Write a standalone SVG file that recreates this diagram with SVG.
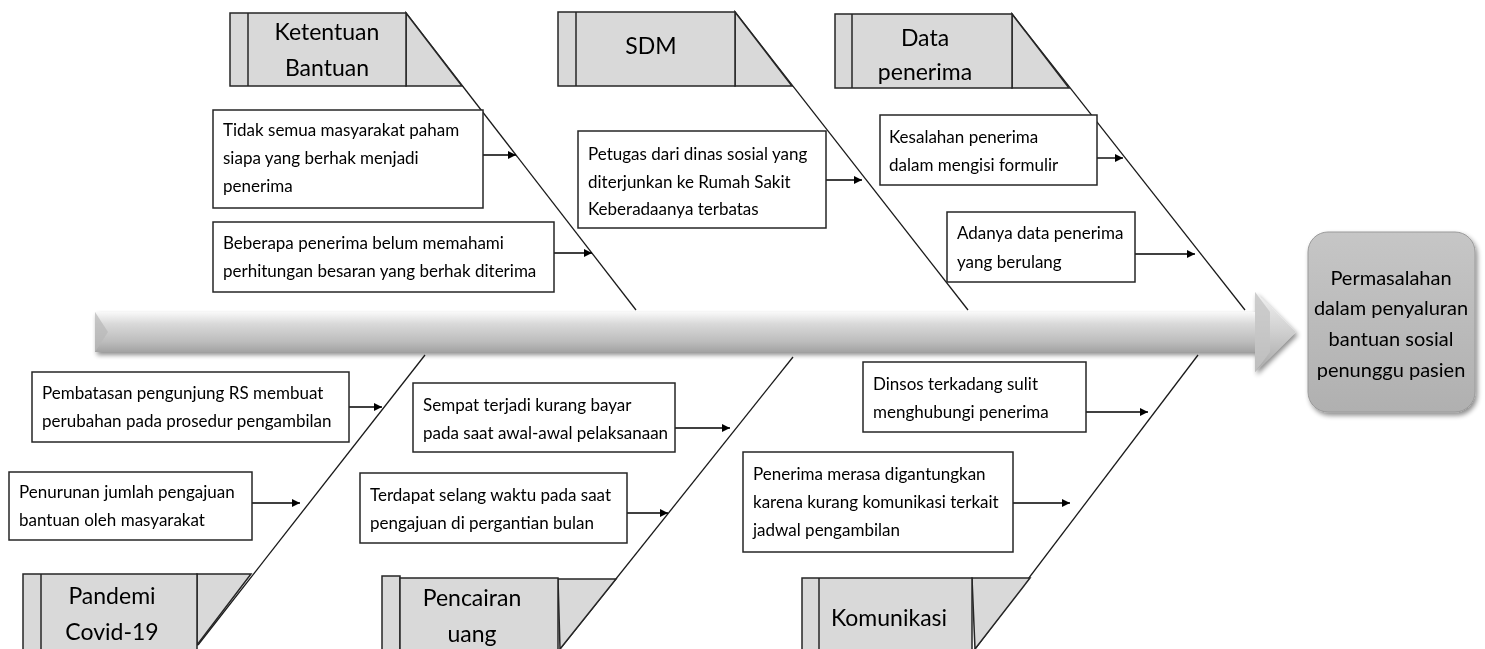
<svg xmlns="http://www.w3.org/2000/svg" width="1485" height="649" viewBox="0 0 1485 649">
<style>
  .hdr{fill:#d9d9d9;stroke:#262626;stroke-width:1.5}
  .box{fill:#ffffff;stroke:#262626;stroke-width:1.5}
  .bone{fill:none;stroke:#1a1a1a;stroke-width:1.3}
  .arr{fill:none;stroke:#000;stroke-width:1.4;marker-end:url(#ah)}
  .t{font-family:Lato,"Liberation Sans",sans-serif;font-size:17px;fill:#000}
  .h{font-family:Lato,"Liberation Sans",sans-serif;font-size:23px;fill:#000;text-anchor:middle}
  .ht{font-family:Lato,"Liberation Sans",sans-serif;font-size:20px;fill:#000;text-anchor:middle}
</style>
<defs>
  <marker id="ah" viewBox="0 0 10 10" refX="10" refY="5" markerWidth="8" markerHeight="8" markerUnits="userSpaceOnUse" orient="auto">
    <path d="M0,0 L10,5 L0,10 z" fill="#000"/>
  </marker>
  <linearGradient id="spg" x1="0" y1="0" x2="0" y2="1">
    <stop offset="0" stop-color="#f9f9f9"/>
    <stop offset="0.3" stop-color="#d9d9d9"/>
    <stop offset="0.75" stop-color="#bcbcbc"/>
    <stop offset="1" stop-color="#a3a3a3"/>
  </linearGradient>
  <linearGradient id="hdg" x1="0" y1="0" x2="0" y2="1">
    <stop offset="0" stop-color="#f2f2f2"/>
    <stop offset="0.5" stop-color="#cfcfcf"/>
    <stop offset="1" stop-color="#a6a6a6"/>
  </linearGradient>
  <linearGradient id="hbg" x1="0" y1="0" x2="0" y2="1">
    <stop offset="0" stop-color="#c6c6c6"/>
    <stop offset="1" stop-color="#b0b0b0"/>
  </linearGradient>
  <filter id="sh" x="-10%" y="-10%" width="130%" height="140%">
    <feGaussianBlur in="SourceAlpha" stdDeviation="2.5"/>
    <feOffset dx="2" dy="3" result="b"/>
    <feComponentTransfer><feFuncA type="linear" slope="0.45"/></feComponentTransfer>
    <feMerge><feMergeNode/><feMergeNode in="SourceGraphic"/></feMerge>
  </filter>
</defs>

<g id="spine" filter="url(#sh)">
  <rect x="95" y="312" width="1162" height="40" fill="url(#spg)"/>
  <polygon points="95,312 108,332 95,352" fill="#b8b8b8" opacity="0.7"/>
  <polygon points="1255,292 1296,332 1255,372" fill="url(#hdg)"/>
  <polygon points="1255,292 1270,312 1270,352 1255,372" fill="#c4c4c4" opacity="0.8"/>
</g>

<g id="head" filter="url(#sh)">
  <rect x="1308" y="232" width="167" height="180" rx="20" ry="20" fill="url(#hbg)" stroke="#9a9a9a" stroke-width="1"/>
  <text class="ht" x="1391" y="285">Permasalahan</text>
  <text class="ht" x="1391" y="315">dalam penyaluran</text>
  <text class="ht" x="1391" y="346">bantuan sosial</text>
  <text class="ht" x="1391" y="377">penunggu pasien</text>
</g>

<g id="connectors">
  <line class="bone" x1="406" y1="13" x2="636" y2="310"/>
  <line class="bone" x1="735" y1="12" x2="968" y2="310"/>
  <line class="bone" x1="1012" y1="14" x2="1245" y2="310"/>
  <line class="bone" x1="425" y1="355" x2="198" y2="645"/>
  <line class="bone" x1="793" y1="357" x2="560" y2="649"/>
  <line class="bone" x1="1198" y1="355" x2="975" y2="649"/>
  <line class="arr" x1="483" y1="155" x2="516" y2="155"/>
  <line class="arr" x1="554" y1="253" x2="592" y2="253"/>
  <line class="arr" x1="826" y1="180" x2="862" y2="180"/>
  <line class="arr" x1="1097" y1="158" x2="1123" y2="158"/>
  <line class="arr" x1="1135" y1="254" x2="1195" y2="254"/>
  <line class="arr" x1="349" y1="407" x2="382" y2="407"/>
  <line class="arr" x1="252" y1="503" x2="300" y2="503"/>
  <line class="arr" x1="675" y1="428" x2="730" y2="428"/>
  <line class="arr" x1="627" y1="513" x2="668" y2="513"/>
  <line class="arr" x1="1086" y1="412" x2="1148" y2="412"/>
  <line class="arr" x1="1013" y1="503" x2="1070" y2="503"/>
</g>

<g id="cat-ketentuan">
  <polygon class="hdr" points="406,13 462,86 406,86"/>
  <rect class="hdr" x="230" y="13" width="176" height="73"/>
  <line x1="248" y1="13" x2="248" y2="86" stroke="#262626" stroke-width="1.5"/>
  <text class="h" x="327" y="40">Ketentuan</text>
  <text class="h" x="327" y="76">Bantuan</text>
</g>
<g id="cat-sdm">
  <polygon class="hdr" points="735,12 792,86 735,86"/>
  <rect class="hdr" x="558" y="12" width="177" height="74"/>
  <line x1="576" y1="12" x2="576" y2="86" stroke="#262626" stroke-width="1.5"/>
  <text class="h" x="651" y="54">SDM</text>
</g>
<g id="cat-data">
  <polygon class="hdr" points="1012,14 1069,88 1012,88"/>
  <rect class="hdr" x="835" y="14" width="177" height="74"/>
  <line x1="852" y1="14" x2="852" y2="88" stroke="#262626" stroke-width="1.5"/>
  <text class="h" x="925" y="46">Data</text>
  <text class="h" x="925" y="80">penerima</text>
</g>
<g id="cat-pandemi">
  <polygon class="hdr" points="197,574 251,574 197,645"/>
  <rect class="hdr" x="23" y="574" width="174" height="80"/>
  <line x1="41" y1="574" x2="41" y2="654" stroke="#262626" stroke-width="1.5"/>
  <text class="h" x="112" y="604">Pandemi</text>
  <text class="h" x="112" y="640">Covid-19</text>
</g>
<g id="cat-pencairan">
  <polygon class="hdr" points="558,579 616,579 560,649"/>
  <rect class="hdr" x="382" y="576" width="18" height="80"/>
  <rect class="hdr" x="400" y="578" width="158" height="80"/>
  <text class="h" x="472" y="606">Pencairan</text>
  <text class="h" x="472" y="642">uang</text>
</g>
<g id="cat-komunikasi">
  <polygon class="hdr" points="972,578 1030,578 975,649"/>
  <rect class="hdr" x="802" y="578" width="170" height="80"/>
  <line x1="819" y1="578" x2="819" y2="658" stroke="#262626" stroke-width="1.5"/>
  <text class="h" x="889" y="626">Komunikasi</text>
</g>

<g id="c1">
  <rect class="box" x="213" y="110" width="270" height="98"/>
  <text class="t" x="223" y="136">Tidak semua masyarakat paham</text>
  <text class="t" x="223" y="164">siapa yang berhak menjadi</text>
  <text class="t" x="223" y="192">penerima</text>
</g>
<g id="c2">
  <rect class="box" x="213" y="222" width="341" height="70"/>
  <text class="t" x="223" y="249">Beberapa penerima belum memahami</text>
  <text class="t" x="223" y="277">perhitungan besaran yang berhak diterima</text>
</g>
<g id="c3">
  <rect class="box" x="578" y="131" width="248" height="97"/>
  <text class="t" x="588" y="160">Petugas dari dinas sosial yang</text>
  <text class="t" x="588" y="188">diterjunkan ke Rumah Sakit</text>
  <text class="t" x="588" y="215">Keberadaanya terbatas</text>
</g>
<g id="c4">
  <rect class="box" x="880" y="115" width="217" height="70"/>
  <text class="t" x="889" y="143">Kesalahan penerima</text>
  <text class="t" x="889" y="171">dalam mengisi formulir</text>
</g>
<g id="c5">
  <rect class="box" x="947" y="212" width="188" height="70"/>
  <text class="t" x="957" y="239">Adanya data penerima</text>
  <text class="t" x="957" y="268">yang berulang</text>
</g>
<g id="c6">
  <rect class="box" x="32" y="372" width="317" height="70"/>
  <text class="t" x="42" y="399">Pembatasan pengunjung RS membuat</text>
  <text class="t" x="42" y="427">perubahan pada prosedur pengambilan</text>
</g>
<g id="c7">
  <rect class="box" x="9" y="472" width="243" height="68"/>
  <text class="t" x="19" y="498">Penurunan jumlah pengajuan</text>
  <text class="t" x="19" y="526">bantuan oleh masyarakat</text>
</g>
<g id="c8">
  <rect class="box" x="413" y="383" width="262" height="69"/>
  <text class="t" x="423" y="411">Sempat terjadi kurang bayar</text>
  <text class="t" x="423" y="439">pada saat awal-awal pelaksanaan</text>
</g>
<g id="c9">
  <rect class="box" x="360" y="473" width="267" height="70"/>
  <text class="t" x="370" y="501">Terdapat selang waktu pada saat</text>
  <text class="t" x="370" y="529">pengajuan di pergantian bulan</text>
</g>
<g id="c10">
  <rect class="box" x="863" y="362" width="223" height="70"/>
  <text class="t" x="873" y="390">Dinsos terkadang sulit</text>
  <text class="t" x="873" y="418">menghubungi penerima</text>
</g>
<g id="c11">
  <rect class="box" x="743" y="452" width="270" height="100"/>
  <text class="t" x="753" y="480">Penerima merasa digantungkan</text>
  <text class="t" x="753" y="508">karena kurang komunikasi terkait</text>
  <text class="t" x="753" y="536">jadwal pengambilan</text>
</g>
</svg>
